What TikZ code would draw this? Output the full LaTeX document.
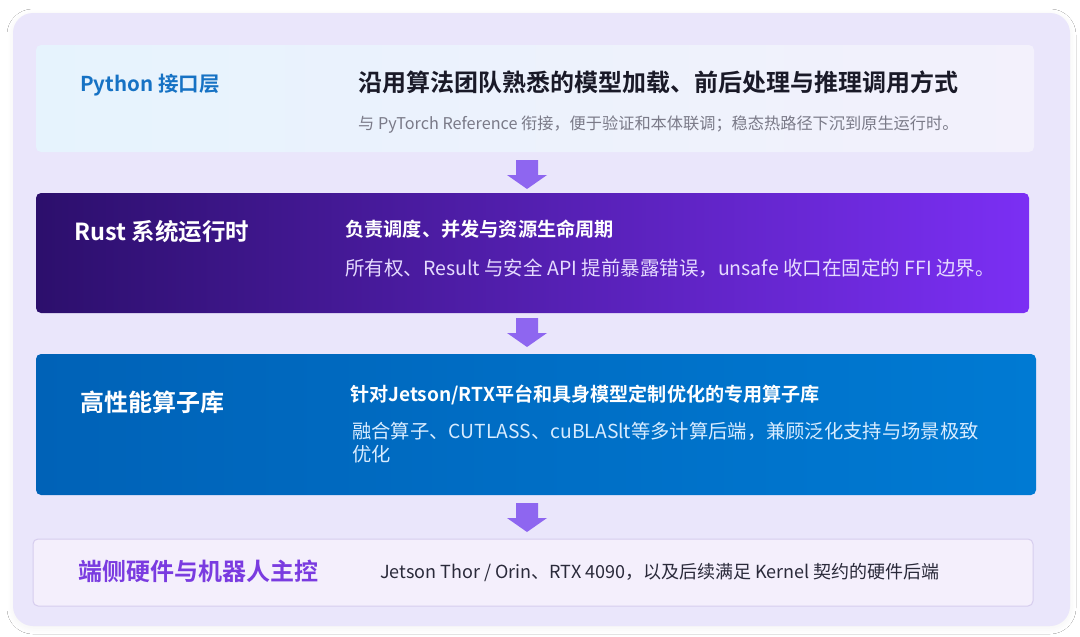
\documentclass[tikz,border=0pt]{standalone}
\usepackage{fontspec}
\setmainfont{Noto Sans CJK SC}
\newfontfamily\cjkb{Noto Sans CJK SC Bold}
\usetikzlibrary{shadows.blur}
\definecolor{panelbg}{HTML}{EAE6FB}
\definecolor{pyleft}{HTML}{E6F3FD}
\definecolor{pyright}{HTML}{F3F1FC}
\definecolor{rsleft}{HTML}{2C0F6C}
\definecolor{rsright}{HTML}{7B2FF4}
\definecolor{opleft}{HTML}{0062B7}
\definecolor{opright}{HTML}{007AD3}
\definecolor{hwfill}{HTML}{F4EFFC}
\definecolor{hwline}{HTML}{D6CDEE}
\definecolor{arrowc}{HTML}{8E66F0}
\definecolor{pyblue}{HTML}{1672C4}
\definecolor{titlec}{HTML}{1A1A28}
\definecolor{grayc}{HTML}{7A7A88}
\definecolor{rssub}{HTML}{E6DBFF}
\definecolor{opsub}{HTML}{D8ECFF}
\definecolor{hwpurple}{HTML}{7A3BE0}
\definecolor{hwtext}{HTML}{2A2A3A}
\tikzset{
  layer/.style={rounded corners=5pt},
  lbl/.style={anchor=west,inner sep=0pt,font=\cjkb\fontsize{#1}{#1}\selectfont},
  txt/.style={anchor=west,inner sep=0pt,font=\fontsize{#1}{#1}\selectfont},
  flowarrow/.style={fill=arrowc,draw=none}
}
\begin{document}
\begin{tikzpicture}[x=1pt,y=-1pt]
\useasboundingbox (0,0) rectangle (1080,637);
\fill[white] (0,0) rectangle (1080,637);
% outer panel
\fill[panelbg,rounded corners=20pt,blur shadow={shadow blur steps=10,shadow blur radius=6pt,shadow xshift=0pt,shadow yshift=-2pt,shadow opacity=5}] (13,13) rectangle (1070,626);
% layer 1
\shade[layer,left color=pyleft,right color=pyright] (36,45) rectangle (1034,152);
\node[lbl=20.5,text=pyblue] (pylbl) at (80,85) {Python 接口层};
\node[lbl=24,text=titlec] (pytitle) at (358,82) {沿用算法团队熟悉的模型加载、前后处理与推理调用方式};
\node[txt=16.2,text=grayc] (pysub) at (358,125) {与 PyTorch Reference 衔接，便于验证和本体联调；稳态热路径下沉到原生运行时。};
% arrow 1
\fill[flowarrow] (516,160) -- ++(0,15) -- ++(-9,0) -- (527,189) -- (547,175) -- ++(-9,0) -- ++(0,-15) -- cycle;
% layer 2
\shade[layer,left color=rsleft,right color=rsright] (36,193) rectangle (1029,313);
\node[lbl=23.5,text=white] (rslbl) at (74,232) {Rust 系统运行时};
\node[lbl=19.2,text=white] (rstitle) at (345,229) {负责调度、并发与资源生命周期};
\node[txt=19.5,text=rssub] (rssub) at (345,268) {所有权、Result 与安全 API 提前暴露错误，unsafe 收口在固定的 FFI 边界。};
% arrow 2
\fill[flowarrow] (516,318) -- ++(0,15) -- ++(-9,0) -- (527,347) -- (547,333) -- ++(-9,0) -- ++(0,-15) -- cycle;
% layer 3
\shade[layer,left color=opleft,right color=opright] (36,354) rectangle (1036,495);
\node[lbl=24,text=white] (oplbl) at (80,402) {高性能算子库};
\node[lbl=19.1,text=white] (optitle) at (350,395) {针对Jetson/RTX平台和具身模型定制优化的专用算子库};
\node[txt=19.3,text=opsub,align=left,font=\fontsize{19.3}{23}\selectfont] (opsub) at (352,443) {融合算子、CUTLASS、cuBLASlt等多计算后端，兼顾泛化支持与场景极致\\优化};
% arrow 3
\fill[flowarrow] (516,503) -- ++(0,15) -- ++(-9,0) -- (527,532) -- (547,518) -- ++(-9,0) -- ++(0,-15) -- cycle;
% layer 4
\filldraw[layer,fill=hwfill,draw=hwline,line width=1pt] (33,539) rectangle (1033,606);
\node[lbl=24,text=hwpurple] (hwlbl) at (78,571) {端侧硬件与机器人主控};
\node[txt=18,text=hwtext] (hwsub) at (380,573) {Jetson Thor / Orin、RTX 4090，以及后续满足 Kernel 契约的硬件后端};
\end{tikzpicture}
\end{document}
